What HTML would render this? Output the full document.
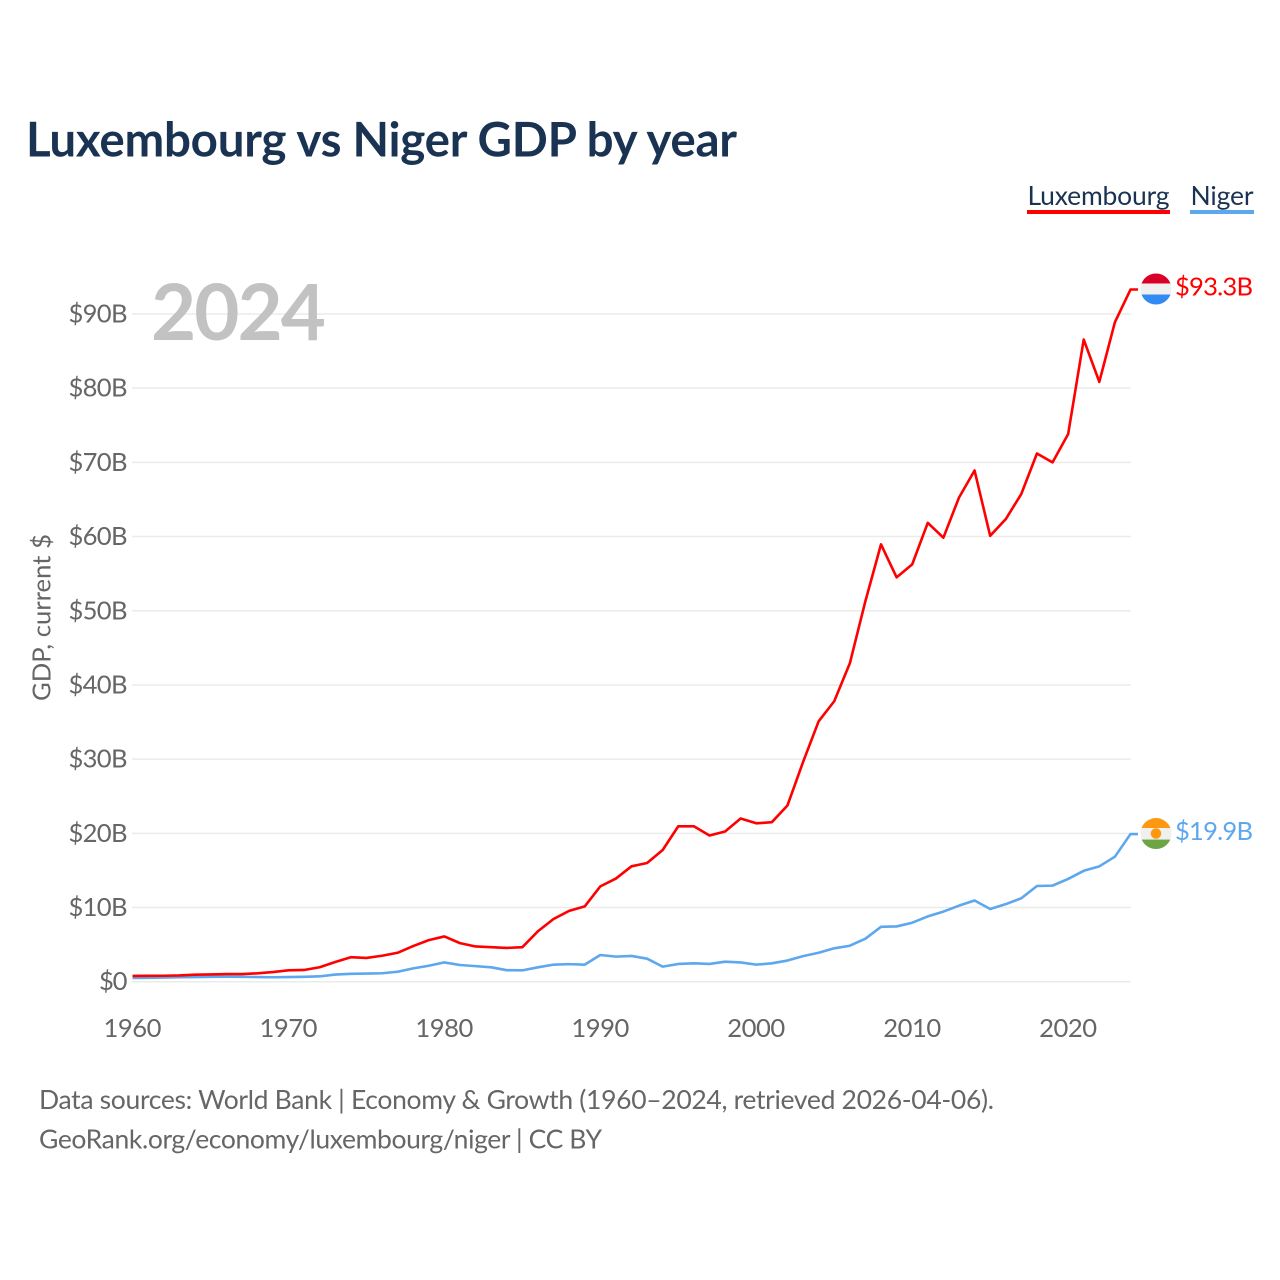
<!DOCTYPE html>
<html lang="en">
<head>
<meta charset="utf-8">
<title>Luxembourg vs Niger GDP by year</title>
<style>
html,body{margin:0;padding:0;background:#fff}
svg{display:block}
text{font-family:"Lato","Carlito","Liberation Sans",sans-serif}
</style>
</head>
<body>
<svg id="chart" xmlns="http://www.w3.org/2000/svg" width="1280" height="1280" viewBox="0 0 1280 1280">
  <rect width="1280" height="1280" fill="#fff"/>
  <text x="26" y="156.5" font-size="47.5" font-weight="700" fill="#1a3353" textLength="711" lengthAdjust="spacing">Luxembourg vs Niger GDP by year</text>

  <g style="cursor:pointer">
    <text x="1027.5" y="205" font-size="26.5" fill="#1a3353" textLength="142" lengthAdjust="spacing">Luxembourg</text>
    <rect x="1027" y="210" width="143" height="4" fill="#ff0000"/>
  </g>
  <g style="cursor:pointer">
    <text x="1190.5" y="205" font-size="26.5" fill="#1a3353" textLength="63" lengthAdjust="spacing">Niger</text>
    <rect x="1190" y="210" width="64" height="4" fill="#5da7ee"/>
  </g>

  <g id="grid"></g>
  <g id="y-axis"></g>
  <g id="x-axis"></g>

  <text transform="translate(50.5 701) rotate(-90)" font-size="25.6" fill="#666" textLength="167" lengthAdjust="spacing">GDP, current $</text>
  <text x="151" y="340" font-size="78" font-weight="700" fill="#bfbfbf" fill-opacity="0.95" textLength="175" lengthAdjust="spacing">2024</text>

  <g id="series"></g>

  <defs>
    <clipPath id="clip-lux"><circle id="clip-lux-circle" r="15.5"/></clipPath>
    <clipPath id="clip-ner"><circle id="clip-ner-circle" r="15.5"/></clipPath>
  </defs>
  <g id="flag-lux"></g>
  <g id="flag-ner"></g>

  <text id="value-lux" x="1175" font-size="25.6" fill="#ff0000" textLength="78" lengthAdjust="spacing"></text>
  <text id="value-ner" x="1175" font-size="25.6" fill="#5da7ee" textLength="78" lengthAdjust="spacing"></text>

  <text x="39" y="1109" font-size="26.5" fill="#666" textLength="955" lengthAdjust="spacing">Data sources: World Bank | Economy &amp; Growth (1960–2024, retrieved 2026-04-06).</text>
  <a><text x="39" y="1148.5" font-size="26.5" fill="#666" textLength="563" lengthAdjust="spacing">GeoRank.org/economy/luxembourg/niger | CC BY</text></a>
</svg>

<script>
const years = [1960,1961,1962,1963,1964,1965,1966,1967,1968,1969,1970,1971,1972,1973,1974,1975,1976,1977,1978,1979,1980,1981,1982,1983,1984,1985,1986,1987,1988,1989,1990,1991,1992,1993,1994,1995,1996,1997,1998,1999,2000,2001,2002,2003,2004,2005,2006,2007,2008,2009,2010,2011,2012,2013,2014,2015,2016,2017,2018,2019,2020,2021,2022,2023,2024];
const luxembourgGdp = [0.78,0.79,0.8,0.85,0.95,0.98,1.03,1.03,1.13,1.3,1.53,1.58,1.95,2.65,3.3,3.2,3.5,3.9,4.8,5.6,6.1,5.2,4.75,4.65,4.55,4.65,6.8,8.45,9.55,10.15,12.85,13.9,15.55,16.0,17.75,20.95,20.95,19.7,20.25,22.0,21.35,21.5,23.75,29.6,35.1,37.8,42.9,51.3,58.95,54.5,56.25,61.85,59.85,65.25,68.9,60.1,62.35,65.75,71.2,70.0,73.8,86.55,80.85,88.9,93.3];
const nigerGdp = [0.5,0.53,0.56,0.6,0.63,0.66,0.68,0.66,0.63,0.6,0.62,0.66,0.72,0.96,1.06,1.09,1.14,1.34,1.8,2.15,2.6,2.25,2.1,1.94,1.55,1.53,1.94,2.3,2.37,2.3,3.6,3.38,3.47,3.1,2.03,2.39,2.48,2.39,2.7,2.6,2.3,2.48,2.85,3.45,3.9,4.5,4.85,5.8,7.4,7.45,7.95,8.8,9.45,10.25,10.95,9.8,10.45,11.25,12.9,12.95,13.85,14.95,15.55,16.85,19.9];
const yTickValues = [0,10,20,30,40,50,60,70,80,90];
const yTickLabels = ["$0","$10B","$20B","$30B","$40B","$50B","$60B","$70B","$80B","$90B"];
const xTickValues = [1960,1970,1980,1990,2000,2010,2020];
const xTickLabels = ["1960","1970","1980","1990","2000","2010","2020"];
const endValueLabels = ["$93.3B","$19.9B"];

const NS = "http://www.w3.org/2000/svg";
function xScale(year){ return 132.5 + (year - 1960) * (1130.5 - 132.5) / 64; }
function yScale(v){ return 981.7 - v * 7.419; }
function make(tag, parent){
  const el = document.createElementNS(NS, tag);
  parent.appendChild(el);
  return el;
}

const grid = document.getElementById("grid");
const yAxis = document.getElementById("y-axis");
yTickValues.forEach(function(v, i){
  const line = make("line", grid);
  
  
  line.setAttribute("x1", 132);
  line.setAttribute("x2", 1131);
  line.setAttribute("y1", yScale(v));
  line.setAttribute("y2", yScale(v));
  line.setAttribute("stroke", "#ebebeb");
  line.setAttribute("stroke-width", "1.5");
  const t = make("text", yAxis);
  
  
  t.setAttribute("x", 127.5);
  t.setAttribute("y", yScale(v) + 8.5);
  t.setAttribute("text-anchor", "end");
  t.setAttribute("font-size", "25.6");
  t.setAttribute("fill", "#666");
  t.setAttribute("textLength", i === 0 ? 28.5 : 59);
  t.setAttribute("lengthAdjust", "spacing");
  t.textContent = yTickLabels[i];
});

const xAxis = document.getElementById("x-axis");
xTickValues.forEach(function(v, i){
  const t = make("text", xAxis);
  
  
  t.setAttribute("x", xScale(v));
  t.setAttribute("y", 1037);
  t.setAttribute("text-anchor", "middle");
  t.setAttribute("font-size", "25.6");
  t.setAttribute("fill", "#666");
  t.setAttribute("textLength", 58);
  t.setAttribute("lengthAdjust", "spacing");
  t.textContent = xTickLabels[i];
});

function linePath(values){
  let d = "";
  values.forEach(function(v, i){
    d += (i ? "L" : "M") + xScale(years[i]).toFixed(2) + " " + yScale(v).toFixed(2);
  });
  const last = values[values.length - 1];
  d += "L" + (xScale(years[years.length - 1]) + 7.5).toFixed(2) + " " + yScale(last).toFixed(2);
  return d;
}

const series = document.getElementById("series");
const nigerLine = make("path", series);


nigerLine.setAttribute("d", linePath(nigerGdp));
nigerLine.setAttribute("fill", "none");
nigerLine.setAttribute("stroke", "#5da7ee");
nigerLine.setAttribute("stroke-width", "2.6");
nigerLine.setAttribute("stroke-linejoin", "round");

const luxLine = make("path", series);


luxLine.setAttribute("d", linePath(luxembourgGdp));
luxLine.setAttribute("fill", "none");
luxLine.setAttribute("stroke", "#ff0000");
luxLine.setAttribute("stroke-width", "2.6");
luxLine.setAttribute("stroke-linejoin", "round");

const luxEnd = yScale(luxembourgGdp[luxembourgGdp.length - 1]) - 0.5;
const nerEnd = yScale(nigerGdp[nigerGdp.length - 1]) - 0.5;
const flagX = 1156;

function setClip(id, cy){
  const c = document.getElementById(id);
  c.setAttribute("cx", flagX);
  c.setAttribute("cy", cy);
}
setClip("clip-lux-circle", luxEnd);
setClip("clip-ner-circle", nerEnd);

function band(parent, clip, cy, offset, height, color){
  const r = make("rect", parent);
  r.setAttribute("x", flagX - 16);
  r.setAttribute("y", cy + offset);
  r.setAttribute("width", 32);
  r.setAttribute("height", height);
  r.setAttribute("fill", color);
  r.setAttribute("clip-path", "url(#" + clip + ")");
  return r;
}

const flagLux = document.getElementById("flag-lux");
const luxRed = band(flagLux, "clip-lux", luxEnd, -16, 10.5, "#d80027");


const luxWhite = band(flagLux, "clip-lux", luxEnd, -5.5, 11, "#f0f0f0");


const luxBlue = band(flagLux, "clip-lux", luxEnd, 5.5, 10.5, "#338af3");



const flagNer = document.getElementById("flag-ner");
const nerOrange = band(flagNer, "clip-ner", nerEnd, -16, 10.5, "#ff9811");


const nerWhite = band(flagNer, "clip-ner", nerEnd, -5.5, 11.5, "#f0f0f0");


const nerGreen = band(flagNer, "clip-ner", nerEnd, 6, 10, "#6da544");


const nerSun = make("circle", flagNer);


nerSun.setAttribute("cx", flagX);
nerSun.setAttribute("cy", nerEnd);
nerSun.setAttribute("r", 5.3);
nerSun.setAttribute("fill", "#ff9811");

const valueLux = document.getElementById("value-lux");
valueLux.setAttribute("y", luxEnd + 6.5);
valueLux.textContent = endValueLabels[0];
const valueNer = document.getElementById("value-ner");
valueNer.setAttribute("y", nerEnd + 6.5);
valueNer.textContent = endValueLabels[1];
</script>
</body>
</html>
